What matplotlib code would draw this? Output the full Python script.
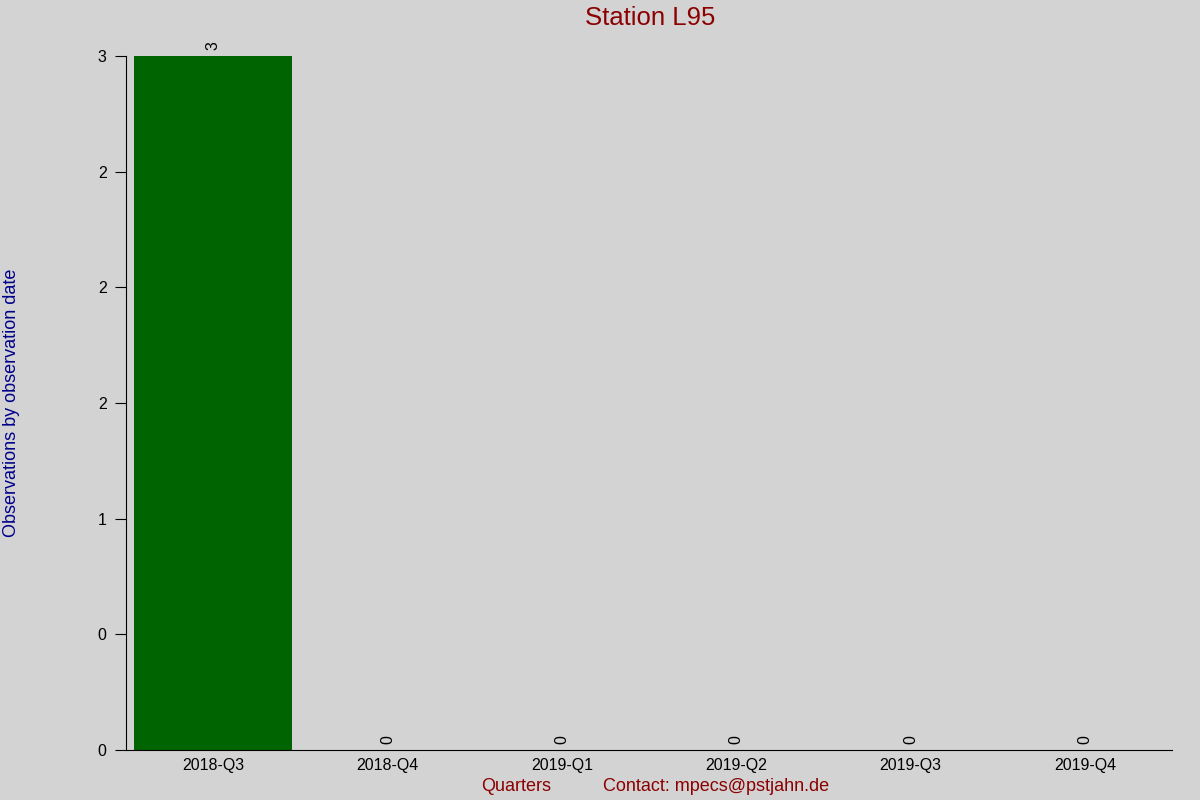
import matplotlib
matplotlib.use('Agg')
import matplotlib.pyplot as plt
from matplotlib.ticker import StrMethodFormatter

# data
quarters = ['2018-Q3', '2018-Q4', '2019-Q1', '2019-Q2', '2019-Q3', '2019-Q4']
counts = [3, 0, 0, 0, 0, 0]

plt.rcParams['font.family'] = ['Liberation Sans', 'DejaVu Sans']

fig = plt.figure(figsize=(12, 8), dpi=100, facecolor='lightgray')
ax = fig.add_axes([0.105, 0.0625, 0.8717, 0.8675], facecolor='lightgray')

bars = ax.bar(range(len(quarters)), counts, width=0.91, color='darkgreen')
ax.bar_label(bars, labels=[str(c) for c in counts], rotation=90, padding=4, fontsize=11.5)

ax.set_xlim(-0.5, len(quarters) - 0.5)
ax.set_ylim(0, 3)
ax.set_xticks(range(len(quarters)))
ax.set_xticklabels(quarters, fontsize=11.5)
ax.tick_params(axis='x', length=0, pad=6)
ax.set_yticks([0, 0.5, 1, 1.5, 2, 2.5, 3])
ax.yaxis.set_major_formatter(StrMethodFormatter('{x:.0f}'))
ax.tick_params(axis='y', length=8, labelsize=11.5, pad=6)

for s in ['top', 'right']:
    ax.spines[s].set_visible(False)

fig.text(0.5417, 0.977, 'Station L95', color='darkred', fontsize=18.5, ha='center', va='center')
fig.text(0.01, 0.496, 'Observations by observation date', color='darkblue', fontsize=13,
         rotation=90, ha='center', va='center')
fig.text(0.43, 0.017, 'Quarters', color='darkred', fontsize=13, ha='center', va='center')
fig.text(0.5025, 0.017, 'Contact: mpecs@pstjahn.de', color='darkred', fontsize=13, ha='left', va='center')

plt.savefig('out.png', facecolor='lightgray')
